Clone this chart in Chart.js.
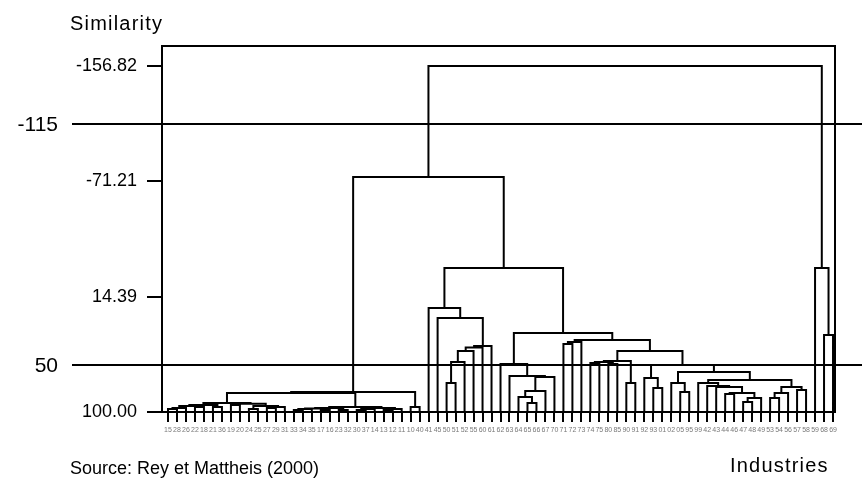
<!DOCTYPE html>
<html>
<head>
<meta charset="utf-8">
<script src="https://cdn.jsdelivr.net/npm/chart.js@4.4.0/dist/chart.umd.min.js"></script>
<style>
  html, body { margin: 0; padding: 0; background: #fff; }
  canvas { display: block; }
</style>
</head>
<body>
<canvas id="dendro" width="863" height="485"></canvas>
<script>
// Industry codes, in dendrogram leaf order
const leafLabels = ['15','28','26','22','18','21','36','19','20','24',
  '25','27','29','31','33','34','35','17','16','23',
  '32','30','37','14','13','12','11','10','40','41',
  '45','50','51','52','55','60','61','62','63','64',
  '65','66','67','70','71','72','73','74','75','80',
  '85','90','91','92','93','01','02','05','95','99',
  '42','43','44','46','47','48','49','53','54','56',
  '57','58','59','68','69'];

// Agglomeration steps: [cluster name, left member, right member, similarity level]
// numbers are leaf positions, strings refer to clusters formed earlier
const links = [
  ['a1', 0, 1, 97.77], ['a2', 'a1', 2, 97.03], ['a3', 3, 4, 96.29],
  ['a4', 'a2', 'a3', 95.55], ['a5', 5, 6, 96.29], ['a6', 'a4', 'a5', 94.8],
  ['a7', 7, 8, 94.8], ['a8', 9, 10, 97.77], ['a9', 11, 12, 97.03],
  ['a10', 'a9', 13, 96.29], ['a11', 'a8', 'a10', 95.55], ['a12', 'a7', 'a11', 93.8],
  ['a13', 'a6', 'a12', 93.32],
  ['b1', 14, 15, 98.52], ['b2', 'b1', 16, 97.77], ['b3', 17, 18, 98.52],
  ['b4', 'b2', 'b3', 97.4], ['b5', 19, 20, 98.52], ['b6', 'b4', 'b5', 97.03],
  ['b7', 21, 22, 98.52], ['b8', 'b7', 23, 97.77], ['b9', 24, 25, 98.52],
  ['b10', 'b9', 26, 97.77], ['b11', 'b8', 'b10', 97.03], ['b12', 'b6', 'b11', 96.29],
  ['b13', 'a13', 'b12', 85.9], ['b14', 27, 28, 96.29], ['b15', 'b13', 'b14', 85.16],
  ['c1', 31, 32, 78.47], ['c2', 'c1', 33, 62.89], ['c3', 'c2', 34, 54.72],
  ['c4', 'c3', 35, 52.13], ['c5', 'c4', 36, 51.01], ['c6', 30, 'c5', 30.23],
  ['c7', 29, 'c6', 22.81],
  ['d1', 40, 41, 93.32], ['d2', 39, 'd1', 88.87], ['d3', 'd2', 42, 84.41],
  ['d4', 'd3', 43, 74.02], ['d5', 38, 'd4', 73.28], ['d6', 37, 'd5', 64.37],
  ['e1', 44, 45, 49.53], ['e2', 'e1', 46, 48.04], ['e3', 47, 48, 63.63],
  ['e4', 49, 50, 64.37], ['e5', 'e3', 'e4', 62.89], ['e6', 51, 52, 78.47],
  ['e7', 'e5', 'e6', 62.15],
  ['f1', 54, 55, 82.19], ['f2', 53, 'f1', 74.76], ['f3', 57, 58, 85.16],
  ['f4', 56, 'f3', 78.47],
  ['g1', 64, 65, 92.58], ['g2', 'g1', 66, 89.61], ['g3', 62, 63, 86.64],
  ['g4', 'g3', 'g2', 85.9], ['g5', 61, 'g4', 81.44], ['g6', 60, 'g5', 80.7],
  ['g7', 59, 'g6', 78.47], ['g8', 67, 68, 89.61], ['g9', 'g8', 69, 85.9],
  ['g10', 70, 71, 83.67], ['g11', 'g9', 'g10', 81.44], ['g12', 'g7', 'g11', 76.25],
  ['f5', 'f4', 'g12', 70.31], ['f6', 'f2', 'f5', 65.11],
  ['e8', 'e7', 'f6', 54.72], ['e9', 'e2', 'e8', 46.56],
  ['c8', 'd6', 'e9', 41.36], ['c9', 'c7', 'c8', -6.88],
  ['A', 'b15', 'c9', -74.43],
  ['r1', 73, 74, 42.85], ['r2', 72, 'r1', -6.88],
  ['root', 'A', 'r2', -156.82]
];

const similarityTicks = [-156.82, -71.21, 14.39, 100];
const cutLevels = [-115, 50];
const leafLevel = 100;

// Build the bracket polylines: each cluster sits midway between its two members
const nodeX = {}, nodeY = {};
leafLabels.forEach((_, i) => { nodeX[i] = i; nodeY[i] = leafLevel; });
const bracketPoints = [];
links.forEach(([name, left, right, level]) => {
  bracketPoints.push(
    { x: nodeX[left], y: nodeY[left] },
    { x: nodeX[left], y: level },
    { x: nodeX[right], y: level },
    { x: nodeX[right], y: nodeY[right] },
    { x: nodeX[right], y: null }
  );
  nodeX[name] = (nodeX[left] + nodeX[right]) / 2;
  nodeY[name] = level;
});

const FONT = 'Liberation Sans, Arial, sans-serif';

function spacedText(ctx, text, x, y, spacing) {
  if ('letterSpacing' in ctx) {
    ctx.letterSpacing = spacing + 'px';
    ctx.fillText(text, x, y);
    ctx.letterSpacing = '0px';
  } else {
    let cx = x;
    for (const ch of text) {
      ctx.fillText(ch, cx, y);
      cx += ctx.measureText(ch).width + spacing;
    }
  }
}

const frameAndNotes = {
  id: 'frameAndNotes',
  afterDatasetsDraw(chart) {
    const { ctx, chartArea: a } = chart;
    ctx.save();
    ctx.strokeStyle = '#000';
    ctx.lineWidth = 2;
    ctx.strokeRect(a.left, a.top, a.right - a.left, a.bottom - a.top);

    // cut levels drawn across the whole figure
    const cut = chart.scales.cut;
    ctx.fillStyle = '#000';
    ctx.font = '21px ' + FONT;
    ctx.textAlign = 'right';
    ctx.textBaseline = 'middle';
    cutLevels.forEach(v => {
      const y = Math.round(cut.getPixelForValue(v));
      ctx.beginPath();
      ctx.moveTo(72, y);
      ctx.lineTo(862, y);
      ctx.stroke();
      ctx.fillText(String(v), 58, y + 1);
    });

    ctx.textAlign = 'left';
    ctx.font = '20px ' + FONT;
    spacedText(ctx, 'Similarity', 70, 24, 1.2);
    ctx.font = '18px ' + FONT;
    spacedText(ctx, 'Source: Rey et Mattheis (2000)', 70, 469, 0);
    ctx.font = '20px ' + FONT;
    spacedText(ctx, 'Industries', 730, 466, 1.2);
    ctx.restore();
  }
};

new Chart(document.getElementById('dendro'), {
  type: 'line',
  data: {
    datasets: [{
      data: bracketPoints,
      borderColor: '#000',
      borderWidth: 2,
      pointRadius: 0,
      fill: false,
      tension: 0,
      spanGaps: false
    }]
  },
  options: {
    responsive: false,
    animation: false,
    devicePixelRatio: 1,
    layout: { padding: { top: 46, right: 28, left: 0, bottom: 0 } },
    plugins: { legend: { display: false }, tooltip: { enabled: false } },
    scales: {
      x: {
        type: 'linear',
        min: -0.668,
        max: leafLabels.length - 1 + 0.22,
        afterBuildTicks: s => { s.ticks = leafLabels.map((_, i) => ({ value: i })); },
        afterFit: s => { s.height = 73; },
        ticks: {
          autoSkip: false, maxRotation: 0, minRotation: 0, padding: 4,
          color: '#7a7a7a', font: { family: FONT, size: 7 },
          callback: v => leafLabels[v]
        },
        grid: { drawOnChartArea: false, tickLength: 10, color: '#000', lineWidth: 2 },
        border: { color: '#000', width: 2 }
      },
      y: {
        type: 'linear',
        reverse: true,
        min: -171.67,
        max: 100,
        afterBuildTicks: s => { s.ticks = similarityTicks.map(v => ({ value: v })); },
        afterFit: s => { s.width = 162; },
        ticks: {
          padding: 10, color: '#000', font: { family: FONT, size: 18 },
          callback: v => v.toFixed(2)
        },
        grid: { drawOnChartArea: false, tickLength: 15, color: '#000', lineWidth: 2 },
        border: { color: '#000', width: 2 }
      },
      cut: {
        type: 'linear',
        axis: 'y',
        display: false,
        reverse: true,
        min: -168.4,
        max: 82.18
      }
    }
  },
  plugins: [frameAndNotes]
});
</script>
</body>
</html>
